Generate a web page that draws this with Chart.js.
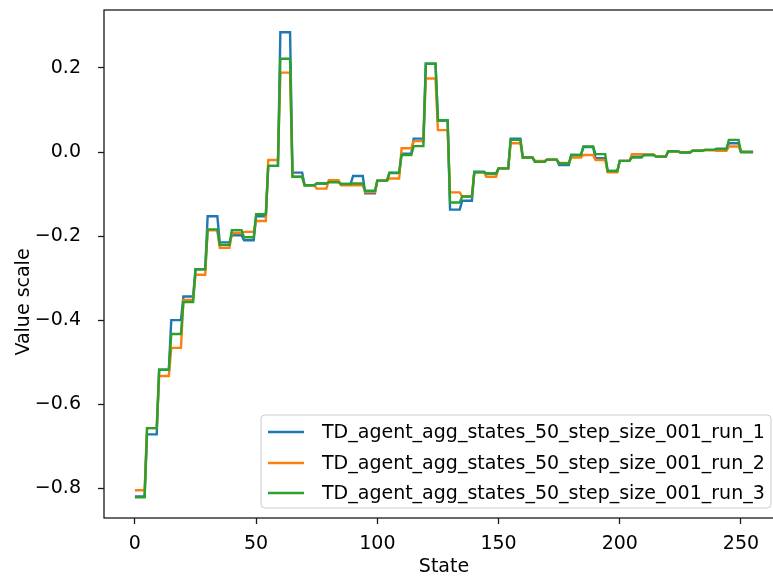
<!DOCTYPE html>
<html>
<head>
<meta charset="utf-8">
<script src="https://cdn.jsdelivr.net/npm/chart.js@4.4.1/dist/chart.umd.min.js"></script>
<style>
  html, body { margin: 0; padding: 0; background: #ffffff; overflow: hidden; }
  #wrap { width: 800px; height: 578px; }
  canvas { display: block; }
</style>
</head>
<body>
<div id="wrap"><canvas id="c" width="800" height="578"></canvas></div>
<script>
// Aggregated value estimates: one value per group of 5 states (last group covers 250-255)
const runNames = [
  'TD_agent_agg_states_50_step_size_001_run_1',
  'TD_agent_agg_states_50_step_size_001_run_2',
  'TD_agent_agg_states_50_step_size_001_run_3'
];
const runColors = ['#1f77b4', '#ff7f0e', '#2ca02c'];

const run1 = [
  -0.820, -0.672, -0.518, -0.400, -0.344, -0.279, -0.153, -0.215, -0.198, -0.210,
  -0.153, -0.033,  0.285, -0.049, -0.079, -0.075, -0.071, -0.076, -0.057, -0.098,
  -0.068, -0.050, -0.004,  0.032,  0.210,  0.075, -0.137, -0.116, -0.047, -0.051,
  -0.039,  0.032, -0.013, -0.023, -0.018, -0.031, -0.007,  0.012, -0.015, -0.045,
  -0.021, -0.011, -0.007, -0.011,  0.002, -0.001,  0.003,  0.005,  0.008,  0.021,
   0.000
];
const run2 = [
  -0.805, -0.657, -0.533, -0.466, -0.352, -0.292, -0.186, -0.228, -0.193, -0.190,
  -0.164, -0.019,  0.189, -0.059, -0.079, -0.087, -0.067, -0.079, -0.079, -0.095,
  -0.068, -0.063,  0.009,  0.026,  0.175,  0.052, -0.096, -0.106, -0.048, -0.059,
  -0.039,  0.021, -0.013, -0.021, -0.018, -0.026, -0.013, -0.007, -0.019, -0.048,
  -0.021, -0.005, -0.006, -0.011,  0.002, -0.001,  0.003,  0.004,  0.003,  0.013,
   0.000
];
const run3 = [
  -0.822, -0.657, -0.518, -0.433, -0.357, -0.279, -0.184, -0.221, -0.186, -0.203,
  -0.148, -0.033,  0.222, -0.059, -0.079, -0.075, -0.072, -0.076, -0.075, -0.092,
  -0.068, -0.049, -0.007,  0.014,  0.210,  0.075, -0.120, -0.106, -0.048, -0.051,
  -0.039,  0.029, -0.013, -0.023, -0.018, -0.027, -0.007,  0.013, -0.005, -0.045,
  -0.021, -0.013, -0.007, -0.011,  0.002, -0.001,  0.003,  0.005,  0.007,  0.029,
   0.000
];

const numStates = 256;
const groupSize = 5;
const xTicks = [0, 50, 100, 150, 200, 250];
const yTicks = [-0.8, -0.6, -0.4, -0.2, 0.0, 0.2];
const yTickLabels = ['\u22120.8', '\u22120.6', '\u22120.4', '\u22120.2', '0.0', '0.2'];

const states = Array.from({ length: numStates }, (_, s) => s);
const groupOf = s => Math.min(Math.floor(s / groupSize), run1.length - 1);
const toPoints = vals => states.map(s => ({ x: s, y: vals[groupOf(s)] }));

const series = [run1, run2, run3];
const FONT = '"DejaVu Sans", sans-serif';
const FS = 19;

const frameAndLegend = {
  id: 'frameAndLegend',
  afterDraw(chart) {
    const { ctx, chartArea: a } = chart;
    ctx.save();
    // axes frame
    ctx.strokeStyle = '#1a1a1a';
    ctx.lineWidth = 1.3;
    ctx.strokeRect(a.left, a.top, a.right - a.left, a.bottom - a.top);

    // axis titles
    ctx.fillStyle = '#000';
    ctx.font = FS + 'px ' + FONT;
    ctx.textAlign = 'center';
    ctx.textBaseline = 'middle';
    ctx.fillText('State', 444, 567);
    ctx.save();
    ctx.translate(24, 302);
    ctx.rotate(-Math.PI / 2);
    ctx.fillText('Value scale', 0, 0);
    ctx.restore();

    // legend
    const bx = 261, by = 415, bw = 510, bh = 93, r = 4;
    ctx.beginPath();
    ctx.moveTo(bx + r, by);
    ctx.lineTo(bx + bw - r, by);
    ctx.quadraticCurveTo(bx + bw, by, bx + bw, by + r);
    ctx.lineTo(bx + bw, by + bh - r);
    ctx.quadraticCurveTo(bx + bw, by + bh, bx + bw - r, by + bh);
    ctx.lineTo(bx + r, by + bh);
    ctx.quadraticCurveTo(bx, by + bh, bx, by + bh - r);
    ctx.lineTo(bx, by + r);
    ctx.quadraticCurveTo(bx, by, bx + r, by);
    ctx.closePath();
    ctx.fillStyle = 'rgba(255,255,255,0.8)';
    ctx.fill();
    ctx.strokeStyle = '#cccccc';
    ctx.lineWidth = 1;
    ctx.stroke();

    const rows = [432, 463, 493];
    ctx.textAlign = 'left';
    for (let i = 0; i < runNames.length; i++) {
      ctx.strokeStyle = runColors[i];
      ctx.lineWidth = 2.4;
      ctx.beginPath();
      ctx.moveTo(268, rows[i]);
      ctx.lineTo(304, rows[i]);
      ctx.stroke();
      ctx.fillStyle = '#000';
      ctx.fillText(runNames[i], 322, rows[i] + 1);
    }
    ctx.restore();
  }
};

new Chart(document.getElementById('c'), {
  type: 'line',
  data: {
    datasets: series.map((vals, i) => ({
      label: runNames[i],
      data: toPoints(vals),
      borderColor: runColors[i],
      backgroundColor: runColors[i],
      borderWidth: 2.4,
      pointRadius: 0,
      tension: 0,
      fill: false,
      order: series.length - 1 - i
    }))
  },
  options: {
    responsive: false,
    animation: false,
    events: [],
    layout: { padding: { left: 0, top: 10, right: 16, bottom: 0 } },
    plugins: { legend: { display: false }, tooltip: { enabled: false } },
    scales: {
      x: {
        type: 'linear',
        min: -12.75,
        max: 267.75,
        afterFit: s => { s.height = 60; s.paddingLeft = 0; s.paddingRight = 0; },
        afterBuildTicks: s => { s.ticks = xTicks.map(v => ({ value: v })); },
        grid: { display: true, drawOnChartArea: false, drawTicks: true, tickLength: 6, tickColor: '#1a1a1a', tickWidth: 1.3 },
        border: { display: false },
        ticks: { color: '#000', font: { family: FONT, size: FS }, padding: 9, maxRotation: 0, autoSkip: false,
                 callback: v => String(v) }
      },
      y: {
        type: 'linear',
        min: -0.871,
        max: 0.338,
        afterFit: s => { s.width = 104; s.paddingTop = 0; s.paddingBottom = 0; },
        afterBuildTicks: s => { s.ticks = yTicks.map(v => ({ value: v })); },
        grid: { display: true, drawOnChartArea: false, drawTicks: true, tickLength: 6, tickColor: '#1a1a1a', tickWidth: 1.3 },
        border: { display: false },
        ticks: { color: '#000', font: { family: FONT, size: FS }, padding: 17, autoSkip: false,
                 callback: v => yTickLabels[yTicks.findIndex(t => Math.abs(t - v) < 1e-9)] }
      }
    }
  },
  plugins: [frameAndLegend]
});
</script>
</body>
</html>
